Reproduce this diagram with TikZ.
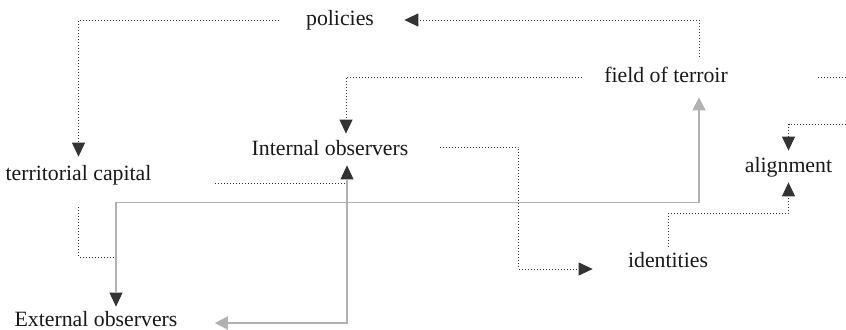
\documentclass[tikz,border=0pt]{standalone}
\usepackage{fontspec}
\setmainfont{Liberation Serif}
\usetikzlibrary{arrows.meta,calc}

\begin{document}
\begin{tikzpicture}[x=0.5pt, y=0.5pt,
  lbl/.style={font=\fontsize{10.9pt}{13pt}\selectfont, text=black!90, inner sep=0pt, text height=7.5pt, text depth=2.5pt, anchor=base},
  dotline/.style={black!80, line width=0.5pt, densely dotted},
  greyline/.style={black!30, line width=0.7pt},
  tip/.style={-{Triangle[length=7pt, width=6.5pt]}},
  greytip/.style={{Triangle[length=6.5pt, width=6.5pt]}-}]
  \useasboundingbox (0,0) rectangle (846,329);
  \node[lbl] (policies) at (340,304) {policies};
  \node[lbl] (terroir) at (666,247) {field of terroir};
  \node[lbl] (internal) at (330,174) {Internal observers};
  \node[lbl] (territorial) at (78.5,149) {territorial capital};
  \node[lbl] (alignment) at (788.5,157) {alignment};
  \node[lbl] (identities) at (668,62) {identities};
  \node[lbl] (external) at (96,3) {External observers};
  \coordinate (turn) at (870,252);
  \draw[dotline, tip, shorten >=15pt] ($(terroir.north)+(33,10)$) |- (policies.east);
  \draw[dotline, tip, shorten <=13.5pt, shorten >=4pt] (policies.west) -| (territorial.north);
  \draw[dotline, tip, shorten <=11pt, shorten >=3pt] (terroir.west) -| ([xshift=8pt]internal.north);
  \draw[dotline, tip, shorten >=3pt] ([xshift=45pt]terroir.east) -- (turn) -- ++(0,-47) -| (alignment.north);
  \draw[dotline, tip, shorten <=15.5pt, shorten >=17.5pt] ([yshift=1.5pt]internal.east) -- ++(110,0) |- ([yshift=-3.5pt]identities.west);
  \draw[dotline, tip, shorten <=2.5pt, shorten >=2.5pt] (identities.north) -- ++(0,38) -| (alignment.south);
  \draw[dotline, tip, shorten <=31.5pt, shorten >=2.5pt] ([yshift=-4pt]territorial.east) -| ([xshift=8.5pt]internal.south);
  \draw[dotline, tip, shorten <=11pt, shorten >=2pt] (territorial.south) -- ++(0,-72) -| ([xshift=10pt]external.north);
  \draw[greyline, greytip, shorten <=5pt, shorten >=9pt] ([xshift=16.5pt]terroir.south) -- ++(0,-115) -| ([xshift=10pt]external.north);
  \draw[greyline, -{Triangle[length=6.5pt, width=6.5pt]}, shorten <=9.5pt, shorten >=18.5pt] ([xshift=8.5pt]internal.south) |- ([yshift=-1pt]external.east);
\end{tikzpicture}
\end{document}
